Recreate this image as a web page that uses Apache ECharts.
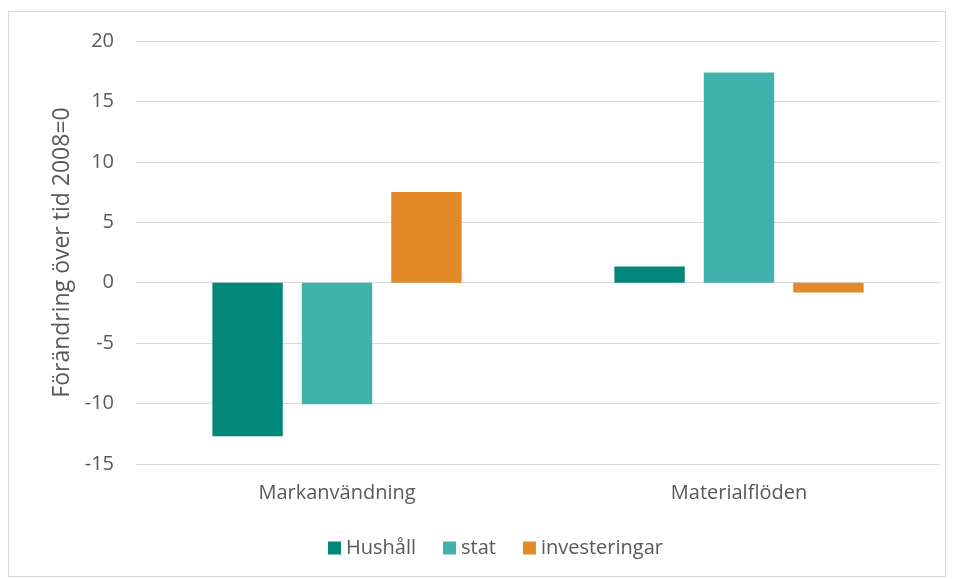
<!DOCTYPE html>
<html>
<head>
<meta charset="utf-8">
<script src="https://cdn.jsdelivr.net/npm/echarts@6/dist/echarts.min.js"></script>
<style>
  html, body { margin: 0; padding: 0; background: #fff; }
  #frame { position: absolute; left: 8px; top: 11px; width: 936px; height: 564px; border: 1px solid #d9d9d9; }
  #chart { position: absolute; left: 0; top: 0; width: 954px; height: 579px; }
</style>
</head>
<body>
<div id="frame"></div>
<div id="chart"></div>
<script>
// kategorier och serier
const categories = ['Markanvändning', 'Materialflöden'];
const hushall = [-12.7, 1.35];
const stat = [-10.05, 17.4];
const investeringar = [7.5, -0.8];
const seriesNames = ['Hushåll', 'stat', 'investeringar'];
const colors = ['#03877a', '#3fb3ab', '#e28a27'];

const textColor = '#595959';
const font = '"Open Sans", sans-serif';

const chart = echarts.init(document.getElementById('chart'));
chart.setOption({
  animation: false,
  color: colors,
  textStyle: { fontFamily: font },
  grid: { left: 136, right: 14, top: 41, bottom: 115, containLabel: false },
  legend: {
    bottom: 16,
    left: 323,
    itemWidth: 13,
    itemHeight: 13,
    itemGap: 27,
    icon: 'rect',
    textStyle: { color: textColor, fontSize: 20, fontFamily: font },
    data: seriesNames
  },
  xAxis: {
    type: 'category',
    data: categories,
    axisLine: { lineStyle: { color: '#d9d9d9', width: 1 } },
    axisTick: { show: false },
    axisLabel: { color: textColor, fontSize: 20, margin: 19, fontFamily: font }
  },
  yAxis: {
    type: 'value',
    min: -15,
    max: 20,
    interval: 5,
    name: 'Förändring över tid 2008=0',
    nameLocation: 'middle',
    nameGap: 62,
    nameTextStyle: { color: textColor, fontSize: 23, fontFamily: font },
    axisLine: { show: false },
    axisTick: { show: false },
    axisLabel: { color: textColor, fontSize: 20, margin: 22, fontFamily: font },
    splitLine: { lineStyle: { color: '#d9d9d9', width: 1 } }
  },
  series: [
    { name: seriesNames[0], type: 'bar', data: hushall, barGap: '27%', barCategoryGap: '38%' },
    { name: seriesNames[1], type: 'bar', data: stat, barGap: '27%', barCategoryGap: '38%' },
    { name: seriesNames[2], type: 'bar', data: investeringar, barGap: '27%', barCategoryGap: '38%' }
  ]
});
</script>
</body>
</html>
